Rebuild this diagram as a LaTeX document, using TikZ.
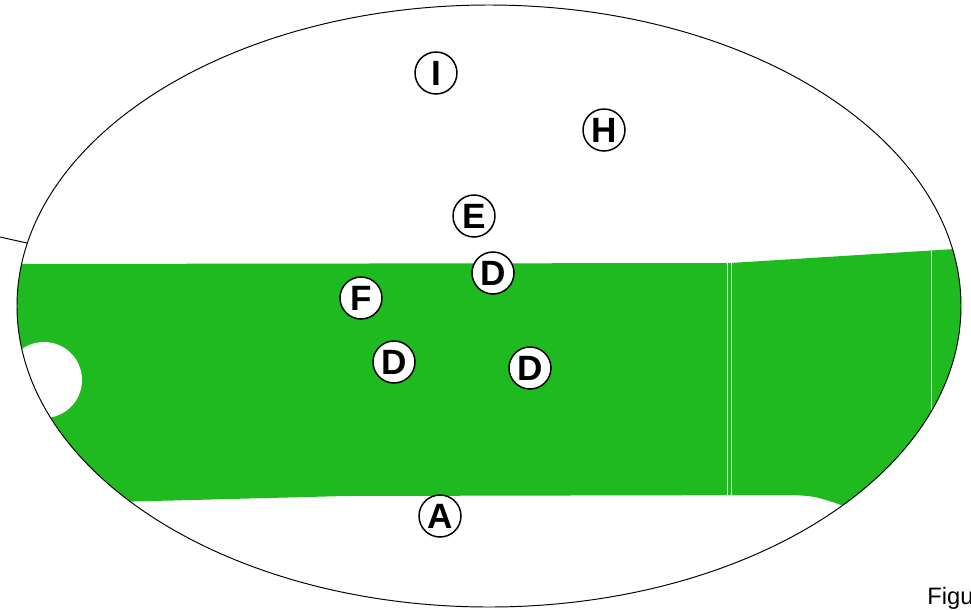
\documentclass[tikz,border=0pt]{standalone}
\usepackage{fontspec}
\setmainfont{Liberation Sans}
\definecolor{bandgreen}{RGB}{31,186,31}

\begin{document}
\begin{tikzpicture}[
		x=0.02cm, y=-0.02cm,
		% Circled letter markers
		marker/.style={
				circle, draw=black, line width=0.85pt, fill=white,
				minimum size=0.84cm, inner sep=0pt,
				font=\fontsize{20}{20}\selectfont\bfseries
			},
		% Outline of the view and leader line
		rim/.style={draw=black, line width=0.55pt},
		leader/.style={draw=black, line width=0.55pt},
		% Thin white joints across the band
		joint/.style={draw=white, line width=0.5pt},
		caption/.style={anchor=base west, inner sep=0pt, font=\fontsize{13.5}{13.5}\selectfont}
	]
	\useasboundingbox (0,0) rectangle (971,609);

	% ==========================================
	% 1. GREEN BAND (CLIPPED TO THE VIEW)
	% ==========================================
	\begin{scope}
		\clip (489,306) ellipse [x radius=472, y radius=301];
		\fill[bandgreen] (0,264) -- (730,263) -- (971,248) -- (971,560) -- (850,508)
		.. controls (815,496) .. (790,495) -- (345,496) -- (0,505) -- cycle;
		% notch at the left end
		\fill[white] (44,380) circle [radius=38];
		% joints
		\draw[joint] (727.5,263) -- (727.5,496);
		\draw[joint] (731.5,263) -- (731.5,496);
		\draw[joint] (931,251) -- (931,440);
	\end{scope}

	% ==========================================
	% 2. VIEW OUTLINE AND LEADER
	% ==========================================
	\draw[rim] (489,306) ellipse [x radius=472, y radius=301];
	\coordinate (leadout) at (0,237);
	\coordinate (leadin) at (27,243);
	\draw[leader] (leadout) -- (leadin);

	% ==========================================
	% 3. MARKERS
	% ==========================================
	\node[marker] (markI) at (436,73) {I};
	\node[marker] (markH) at (604,130) {H};
	\node[marker] (markE) at (474,216) {E};
	\node[marker] (markDtop) at (493,273) {D};
	\node[marker] (markF) at (361,298) {F};
	\node[marker] (markDleft) at (394,362) {D};
	\node[marker] (markDright) at (530,368) {D};
	\node[marker] (markA) at (440,516) {A};

	% caption, cut by the page edge
	\node[caption] (figcap) at (927,604) {Figu};

\end{tikzpicture}
\end{document}
